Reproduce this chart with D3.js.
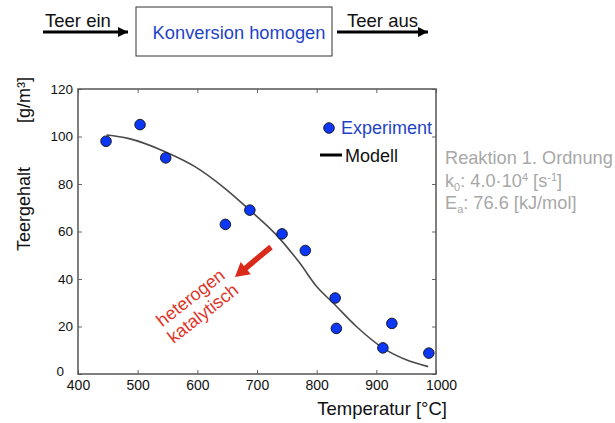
<!DOCTYPE html>
<html>
<head>
<meta charset="utf-8">
<script src="https://cdn.jsdelivr.net/npm/d3@7"></script>
<style>
  body { margin: 0; background: #fff; }
  text { font-family: "Liberation Sans", Arial, Helvetica, sans-serif; }
</style>
</head>
<body>
<div id="chartContainer"></div>
<script>
// Experiment data
const expTemp = [447, 504, 547, 647, 688, 742, 781, 831, 833, 911, 926, 988];
const expTar = [98, 105, 91, 63, 69, 59, 52, 32, 19.2, 11, 21.3, 8.8];

// Model curve
const modelTemp = [448, 484, 546, 596, 646, 688, 730, 772, 800, 828, 867, 912, 951, 987];
const modelTar = [100.6, 99.2, 93.6, 87.3, 78.2, 69, 59.2, 46.6, 36.8, 29.8, 19.9, 10.8, 5.9, 3.1];

const xTicks = [400, 500, 600, 700, 800, 900, 1000];
const yTicks = [0, 20, 40, 60, 80, 100, 120];

const width = 615;
const height = 423;
const marginTop = 89;
const marginRight = 179;
const marginBottom = 49;
const marginLeft = 78;

const x = d3.scaleLinear([400, 1000], [marginLeft, width - marginRight]);
const y = d3.scaleLinear([0, 120], [height - marginBottom, marginTop]);

const svg = d3.create("svg")
  .attr("width", width)
  .attr("height", height)
  .attr("viewBox", [0, 0, width, height]);

// arrow marker for flow diagram
svg.append("defs").append("marker")
  .attr("id", "head")
  .attr("viewBox", "0 0 10 10")
  .attr("refX", 10).attr("refY", 5)
  .attr("markerUnits", "userSpaceOnUse")
  .attr("markerWidth", 11).attr("markerHeight", 10)
  .attr("orient", "auto")
  .append("path").attr("d", "M0,0L10,5L0,10Z").attr("fill", "#000");

// --- flow diagram on top ---
const flow = svg.append("g");
flow.append("line")
  .attr("x1", 43).attr("x2", 128).attr("y1", 32).attr("y2", 32)
  .attr("stroke", "#000").attr("stroke-width", 3)
  .attr("marker-end", "url(#head)");
flow.append("text")
  .attr("x", 45).attr("y", 27)
  .attr("font-size", 18.5).attr("fill", "#111")
  .text("Teer ein");
flow.append("rect")
  .attr("x", 136).attr("y", 7).attr("width", 196).attr("height", 49)
  .attr("fill", "#fff").attr("stroke", "#333").attr("stroke-width", 1);
flow.append("text")
  .attr("x", 239).attr("y", 39)
  .attr("text-anchor", "middle")
  .attr("font-size", 18.3).attr("fill", "#1f43c8")
  .text("Konversion homogen");
flow.append("line")
  .attr("x1", 337).attr("x2", 428).attr("y1", 32).attr("y2", 32)
  .attr("stroke", "#000").attr("stroke-width", 3)
  .attr("marker-end", "url(#head)");
flow.append("text")
  .attr("x", 347).attr("y", 27)
  .attr("font-size", 18.5).attr("fill", "#111")
  .text("Teer aus");

// --- plot frame ---
svg.append("rect")
  .attr("x", marginLeft).attr("y", marginTop)
  .attr("width", width - marginRight - marginLeft)
  .attr("height", height - marginBottom - marginTop)
  .attr("fill", "#fff");

// x-axis (ticks pointing inward)
svg.append("g")
  .attr("transform", `translate(0,${height - marginBottom})`)
  .call(d3.axisBottom(x).tickValues(xTicks).tickFormat(d3.format("d"))
    .tickSizeInner(-4).tickSizeOuter(0).tickPadding(6))
  .call(g => g.select(".domain").remove())
  .call(g => g.selectAll(".tick line").attr("stroke", "#666"))
  .call(g => g.selectAll(".tick text").attr("font-size", 14).attr("fill", "#111")
    .attr("font-family", null))
  .call(g => g.selectAll(".tick text").filter(d => d === 1000).attr("dx", 5));

// top ticks
svg.append("g")
  .attr("transform", `translate(0,${marginTop})`)
  .call(d3.axisTop(x).tickValues(xTicks).tickSizeInner(-4).tickSizeOuter(0).tickFormat(""))
  .call(g => g.select(".domain").remove())
  .call(g => g.selectAll(".tick line").attr("stroke", "#666"));

// y-axis
svg.append("g")
  .attr("transform", `translate(${marginLeft},0)`)
  .call(d3.axisLeft(y).tickValues(yTicks).tickSizeInner(-4).tickSizeOuter(0).tickPadding(5))
  .call(g => g.select(".domain").remove())
  .call(g => g.selectAll(".tick line").attr("stroke", "#666"))
  .call(g => g.selectAll(".tick text").attr("font-size", 13.5).attr("fill", "#111")
    .attr("font-family", null))
  .call(g => g.selectAll(".tick text").filter(d => d === 0).attr("dx", -9).attr("dy", "0.1em"));

// right ticks
svg.append("g")
  .attr("transform", `translate(${width - marginRight},0)`)
  .call(d3.axisRight(y).tickValues(yTicks).tickSizeInner(-4).tickSizeOuter(0).tickFormat(""))
  .call(g => g.select(".domain").remove())
  .call(g => g.selectAll(".tick line").attr("stroke", "#666"));

svg.append("rect")
  .attr("x", marginLeft).attr("y", marginTop)
  .attr("width", width - marginRight - marginLeft)
  .attr("height", height - marginBottom - marginTop)
  .attr("fill", "none").attr("stroke", "#555").attr("stroke-width", 1.5);

// axis titles
svg.append("text")
  .attr("transform", "translate(30,209) rotate(-90)")
  .attr("text-anchor", "middle")
  .attr("font-size", 18).attr("fill", "#111")
  .text("Teergehalt");
svg.append("text")
  .attr("transform", "translate(30,100) rotate(-90)")
  .attr("text-anchor", "middle")
  .attr("font-size", 18).attr("fill", "#111")
  .text("[g/m³]");

svg.append("text")
  .attr("x", 447).attr("y", 415)
  .attr("text-anchor", "end")
  .attr("font-size", 18.5).attr("fill", "#111")
  .text("Temperatur [°C]");

// model line
const modelData = modelTemp.map((t, i) => ({t, v: modelTar[i]}));
const line = d3.line()
  .x(d => x(d.t))
  .y(d => y(d.v))
  .curve(d3.curveMonotoneX);

svg.append("path")
  .attr("fill", "none")
  .attr("stroke", "#4a4a4a")
  .attr("stroke-width", 1.6)
  .attr("d", line(modelData));

// experiment points
const expData = expTemp.map((t, i) => ({t, v: expTar[i]}));
svg.append("g")
  .selectAll("circle")
  .data(expData)
  .join("circle")
  .attr("cx", d => x(d.t))
  .attr("cy", d => y(d.v))
  .attr("r", 5.3)
  .attr("fill", "#0c37f5")
  .attr("stroke", "#111")
  .attr("stroke-width", 0.9);

// legend
svg.append("circle")
  .attr("cx", 329).attr("cy", 128).attr("r", 5.3)
  .attr("fill", "#0c37f5").attr("stroke", "#111").attr("stroke-width", 0.9);
svg.append("text")
  .attr("x", 341).attr("y", 134)
  .attr("font-size", 18).attr("fill", "#1f43c8")
  .text("Experiment");
svg.append("line")
  .attr("x1", 320).attr("x2", 342).attr("y1", 155).attr("y2", 155)
  .attr("stroke", "#000").attr("stroke-width", 3);
svg.append("text")
  .attr("x", 345).attr("y", 162)
  .attr("font-size", 18).attr("fill", "#111")
  .text("Modell");

// kinetic parameters (grey)
const info = svg.append("g").attr("fill", "#a8a8a8").attr("font-size", 18.2);
info.append("text").attr("x", 445).attr("y", 164).text("Reaktion 1. Ordnung");
const k0 = info.append("text").attr("x", 445).attr("y", 187);
k0.append("tspan").text("k");
k0.append("tspan").attr("font-size", 11).attr("dy", 4).text("0");
k0.append("tspan").attr("dy", -4).text(": 4.0·10");
k0.append("tspan").attr("font-size", 11).attr("dy", -6).text("4");
k0.append("tspan").attr("dy", 6).text(" [s");
k0.append("tspan").attr("font-size", 11).attr("dy", -6).text("-1");
k0.append("tspan").attr("dy", 6).text("]");
const ea = info.append("text").attr("x", 445).attr("y", 209);
ea.append("tspan").text("E");
ea.append("tspan").attr("font-size", 11).attr("dy", 4).text("a");
ea.append("tspan").attr("dy", -4).text(": 76.6 [kJ/mol]");

// red arrow + annotation
const red = "#d92a1c";
const ax1 = 271, ay1 = 247, ax2 = 235, ay2 = 277;
const ang = Math.atan2(ay2 - ay1, ax2 - ax1) * 180 / Math.PI;
const len = Math.hypot(ax2 - ax1, ay2 - ay1);
svg.append("path")
  .attr("transform", `translate(${ax1},${ay1}) rotate(${ang})`)
  .attr("d", `M0,-2.8L${len - 14},-2.8L${len - 14},-8L${len},0L${len - 14},8L${len - 14},2.8L0,2.8Z`)
  .attr("fill", red);

const note = svg.append("g")
  .attr("transform", "translate(197,306) rotate(-38)")
  .attr("fill", "#e0362a")
  .attr("font-size", 18)
  .attr("text-anchor", "middle");
note.append("text").attr("y", -4.5).text("heterogen");
note.append("text").attr("y", 15.5).text("katalytisch");

document.getElementById("chartContainer").append(svg.node());
</script>
</body>
</html>
